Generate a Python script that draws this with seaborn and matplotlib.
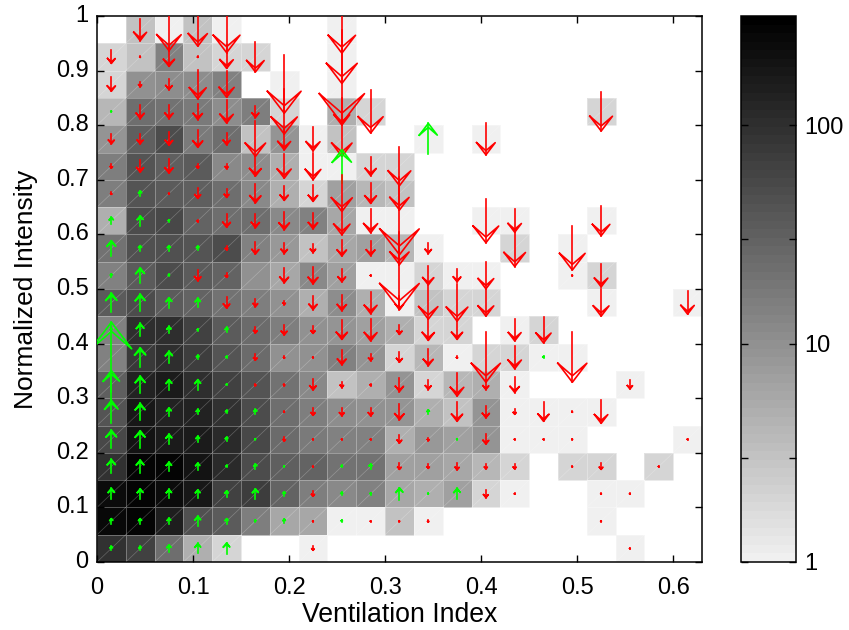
import numpy as np
import pandas as pd
import matplotlib
matplotlib.use("Agg")
import matplotlib.pyplot as plt
from matplotlib.colors import ListedColormap, LogNorm
import seaborn as sns

plt.rcParams["font.family"] = ["Liberation Sans", "DejaVu Sans"]

x_ticks = [0, 0.1, 0.2, 0.3, 0.4, 0.5, 0.6]
x_tick_labels = ["0", "0.1", "0.2", "0.3", "0.4", "0.5", "0.6"]
y_ticks = [0, 0.1, 0.2, 0.3, 0.4, 0.5, 0.6, 0.7, 0.8, 0.9, 1]
y_tick_labels = ["0", "0.1", "0.2", "0.3", "0.4", "0.5", "0.6", "0.7", "0.8", "0.9", "1"]
cbar_ticks = [1, 3, 10, 30, 100]
cbar_tick_labels = ["1", "", "10", "", "100"]

x_bin = 0.03
y_bin = 0.05
count_max = 316

# counts per bin, top row first
counts = [
    [0, 3, 1, 3, 1, 0, 0, 0, 1, 0, 0, 0, 0, 0, 0, 0, 0, 0, 0, 0, 0],
    [2, 3, 14, 3, 2, 2, 0, 0, 1, 0, 0, 0, 0, 0, 0, 0, 0, 0, 0, 0, 0],
    [2, 10, 11, 11, 14, 0, 1, 0, 1, 0, 0, 0, 0, 0, 0, 0, 0, 0, 0, 0, 0],
    [4, 22, 20, 17, 11, 15, 2, 0, 5, 2, 0, 0, 0, 0, 0, 0, 0, 2, 0, 0, 0],
    [9, 32, 50, 17, 22, 3, 9, 1, 3, 0, 0, 1, 0, 1, 0, 0, 0, 0, 0, 0, 0],
    [15, 40, 32, 35, 12, 11, 5, 1, 1, 2, 2, 0, 0, 0, 0, 0, 0, 0, 0, 0, 0],
    [15, 40, 35, 32, 22, 12, 5, 2, 7, 4, 3, 0, 0, 0, 0, 0, 0, 0, 0, 0, 0],
    [5, 50, 57, 28, 22, 22, 12, 14, 6, 1, 1, 0, 0, 1, 1, 0, 0, 1, 0, 0, 0],
    [20, 45, 45, 40, 50, 14, 8, 3, 6, 7, 4, 1, 0, 0, 2, 0, 1, 0, 0, 0, 0],
    [14, 35, 50, 35, 28, 10, 6, 12, 7, 1, 1, 2, 1, 1, 0, 0, 1, 2, 0, 0, 0],
    [35, 50, 35, 28, 20, 15, 10, 5, 11, 5, 1, 3, 2, 2, 0, 0, 0, 1, 0, 0, 1],
    [14, 105, 105, 64, 35, 25, 15, 10, 9, 7, 5, 2, 2, 0, 1, 2, 0, 0, 0, 0, 0],
    [14, 80, 105, 72, 40, 25, 10, 10, 14, 9, 2, 4, 1, 2, 2, 1, 1, 0, 0, 0, 0],
    [32, 130, 160, 105, 64, 40, 20, 12, 3, 5, 9, 2, 4, 5, 1, 0, 0, 0, 1, 0, 0],
    [40, 178, 132, 132, 92, 50, 22, 15, 11, 10, 9, 5, 3, 9, 1, 1, 1, 1, 0, 0, 0],
    [57, 188, 167, 167, 117, 57, 25, 17, 14, 14, 5, 8, 7, 9, 1, 1, 1, 0, 0, 0, 1],
    [92, 285, 280, 188, 117, 50, 32, 28, 20, 20, 7, 7, 6, 4, 2, 0, 2, 2, 0, 2, 0],
    [238, 268, 226, 178, 64, 72, 28, 15, 12, 14, 6, 5, 7, 2, 1, 0, 0, 1, 1, 0, 0],
    [250, 285, 148, 45, 35, 15, 6, 6, 1, 1, 3, 1, 0, 0, 0, 0, 0, 1, 0, 0, 0],
    [92, 64, 22, 5, 2, 0, 0, 1, 0, 0, 0, 0, 0, 0, 0, 0, 0, 0, 1, 0, 0],
]

# arrow length per bin, + is up, - is down
drift = [
    [0, -22, -42, -33, -46, 0, 0, 0, -47, 0, 0, 0, 0, 0, 0, 0, 0, 0, 0, 0, 0],
    [-13, -1, -19, -1, -23, -30, 0, 0, -53, 0, 0, 0, 0, 0, 0, 0, 0, 0, 0, 0, 0],
    [-14, -5, -11, -29, -26, 0, -58, 0, -78, 0, 0, 0, 0, 0, 0, 0, 0, 0, 0, 0, 0],
    [1, -14, -14, -16, -23, -12, -45, 0, -27, -43, 0, 0, 0, 0, 0, 0, 0, -39, 0, 0, 0],
    [-10, -10, -13, -17, -12, -35, -22, -24, -35, 0, 0, 31, 0, -32, 0, 0, 0, 0, 0, 0, 0],
    [-4, -12, -14, -4, -5, -20, -24, -27, 33, -19, -39, 0, 0, 0, 0, 0, 0, 0, 0, 0, 0],
    [-2, 5, -1, -10, -8, -19, -14, -16, -36, -20, -33, 0, 0, 0, 0, 0, 0, 0, 0, 0, 0],
    [7, 10, 2, -2, -13, -14, -18, -16, -28, -24, -68, 0, 0, -44, -23, 0, 0, -30, 0, 0, 0],
    [15, 5, 5, 4, -4, -12, -11, -9, -16, -15, -33, -11, 0, 0, -37, 0, -44, 0, 0, 0, 0],
    [3, 15, 2, -11, -4, 0, -15, -17, -13, -1, -68, -19, -13, -27, 0, 0, -1, -23, 0, 0, 0],
    [19, 17, 10, 9, -11, -8, -4, -14, -16, -22, -14, -33, -37, -27, 0, 0, 0, -27, 0, 0, -23],
    [3, 13, 7, 2, 5, -6, -10, -7, -19, -22, -9, -21, -19, 0, -22, -26, 0, 0, 0, 0, 0],
    [70, 19, 12, 4, 2, -6, -2, -1, -15, -7, -10, -17, -2, -50, -23, 2, -50, 0, 0, 0, 0],
    [28, 17, 10, 10, 1, -2, -2, -11, -6, -2, -14, -10, -23, -10, -16, 0, 0, 0, -9, 0, 0],
    [23, 17, 8, 5, 3, 5, -1, -7, -8, -8, -16, 4, -19, -12, -5, -19, -1, -23, 0, 0, 0],
    [18, 17, 10, 6, 4, 1, -4, -1, -1, -1, -8, -3, 1, -10, -1, -1, -1, 0, 0, 0, -1],
    [14, 13, 9, 7, 2, 5, 1, -1, 2, 5, -6, -4, -7, -5, -5, 0, -1, -6, 0, -1, 0],
    [11, 10, 9, 8, 6, 10, 4, -5, 3, 2, 12, 1, 11, -8, -1, 0, 0, -1, -1, 0, 0],
    [5, 5, 6, 10, 5, 2, 4, -1, 2, -1, -1, -2, 0, 0, 0, 0, 0, -1, 0, 0, 0],
    [4, 4, 7, 10, 11, 0, 0, -4, 0, 0, 0, 0, 0, 0, 0, 0, 0, 0, -1, 0, 0],
]

counts = np.array(counts)
drift = np.array(drift)
n_rows, n_cols = counts.shape

fig = plt.figure(figsize=(8.49, 6.30), dpi=100)
ax = fig.add_axes([97 / 849, 1 - 562 / 630, 605 / 849, 546 / 630])
cax = fig.add_axes([741 / 849, 1 - 562 / 630, 55 / 849, 546 / 630])

grays = np.linspace(0.94, 0.0, 64)
cmap = ListedColormap(np.column_stack([grays, grays, grays]))

df = pd.DataFrame(counts)
sns.heatmap(df, ax=ax, cbar_ax=cax, cmap=cmap, mask=df == 0,
            norm=LogNorm(vmin=1, vmax=count_max),
            linewidths=0.6, linecolor=(1, 1, 1, 0.3),
            cbar_kws={"ticks": cbar_ticks})

# one pixel in the axes, expressed in heatmap cells
px_x = 1 / (605 / n_cols)
px_y = 1 / (546 / n_rows)

# faint cell diagonals
for r in range(n_rows):
    for c in range(n_cols):
        if counts[r, c] > 0:
            ax.plot([c, c + 1], [r + 1, r], color="white", alpha=0.25, lw=0.5, zorder=2)

# open-headed arrows centred on their cells
for r in range(n_rows):
    for c in range(n_cols):
        d = drift[r, c]
        if d == 0:
            continue
        color = "#00ff00" if d > 0 else "#ff0000"
        x0 = c + 0.5
        y0 = r + 0.5
        # screen up is a smaller row number
        sign = -np.sign(d)
        length = abs(d) * px_y
        tip = y0 + sign * length / 2
        tail = y0 - sign * length / 2
        barb_y = tip - sign * length * 0.38
        notch_y = tip - sign * length * 0.13
        half_w = abs(d) * 0.29 * px_x
        ax.plot([x0, x0], [tail, tip], color=color, lw=1.2, zorder=3)
        ax.plot([x0 - half_w, x0, x0 + half_w, x0, x0 - half_w],
                [barb_y, tip, barb_y, notch_y, barb_y],
                color=color, lw=1.2, zorder=3)

ax.set_xlim(0, n_cols)
ax.set_ylim(n_rows, 0)
ax.set_xticks([v / x_bin for v in x_ticks])
ax.set_xticklabels(x_tick_labels, rotation=0)
ax.set_yticks([(1 - v) / y_bin for v in y_ticks])
ax.set_yticklabels(y_tick_labels, rotation=0)
ax.tick_params(axis="x", direction="in", length=5, width=1, top=True, labelsize=17, pad=11)
ax.tick_params(axis="y", direction="in", length=5, width=1, right=True, labelsize=17, pad=6)
ax.set_xlabel("Ventilation Index", fontsize=19.2, labelpad=2)
ax.set_ylabel("Normalized Intensity", fontsize=19, labelpad=13)
for spine in ax.spines.values():
    spine.set_visible(True)
    spine.set_linewidth(1.1)
    spine.set_color("black")

cbar = ax.collections[0].colorbar
cbar.ax.minorticks_off()
cbar.set_ticks(cbar_ticks)
cbar.set_ticklabels(cbar_tick_labels)
cbar.ax.tick_params(direction="in", length=5, width=1, left=True, right=True, labelsize=17, pad=6)
cbar.outline.set_visible(True)
cbar.outline.set_linewidth(1.1)
cbar.outline.set_edgecolor("black")

fig.savefig("out.png", dpi=100)
